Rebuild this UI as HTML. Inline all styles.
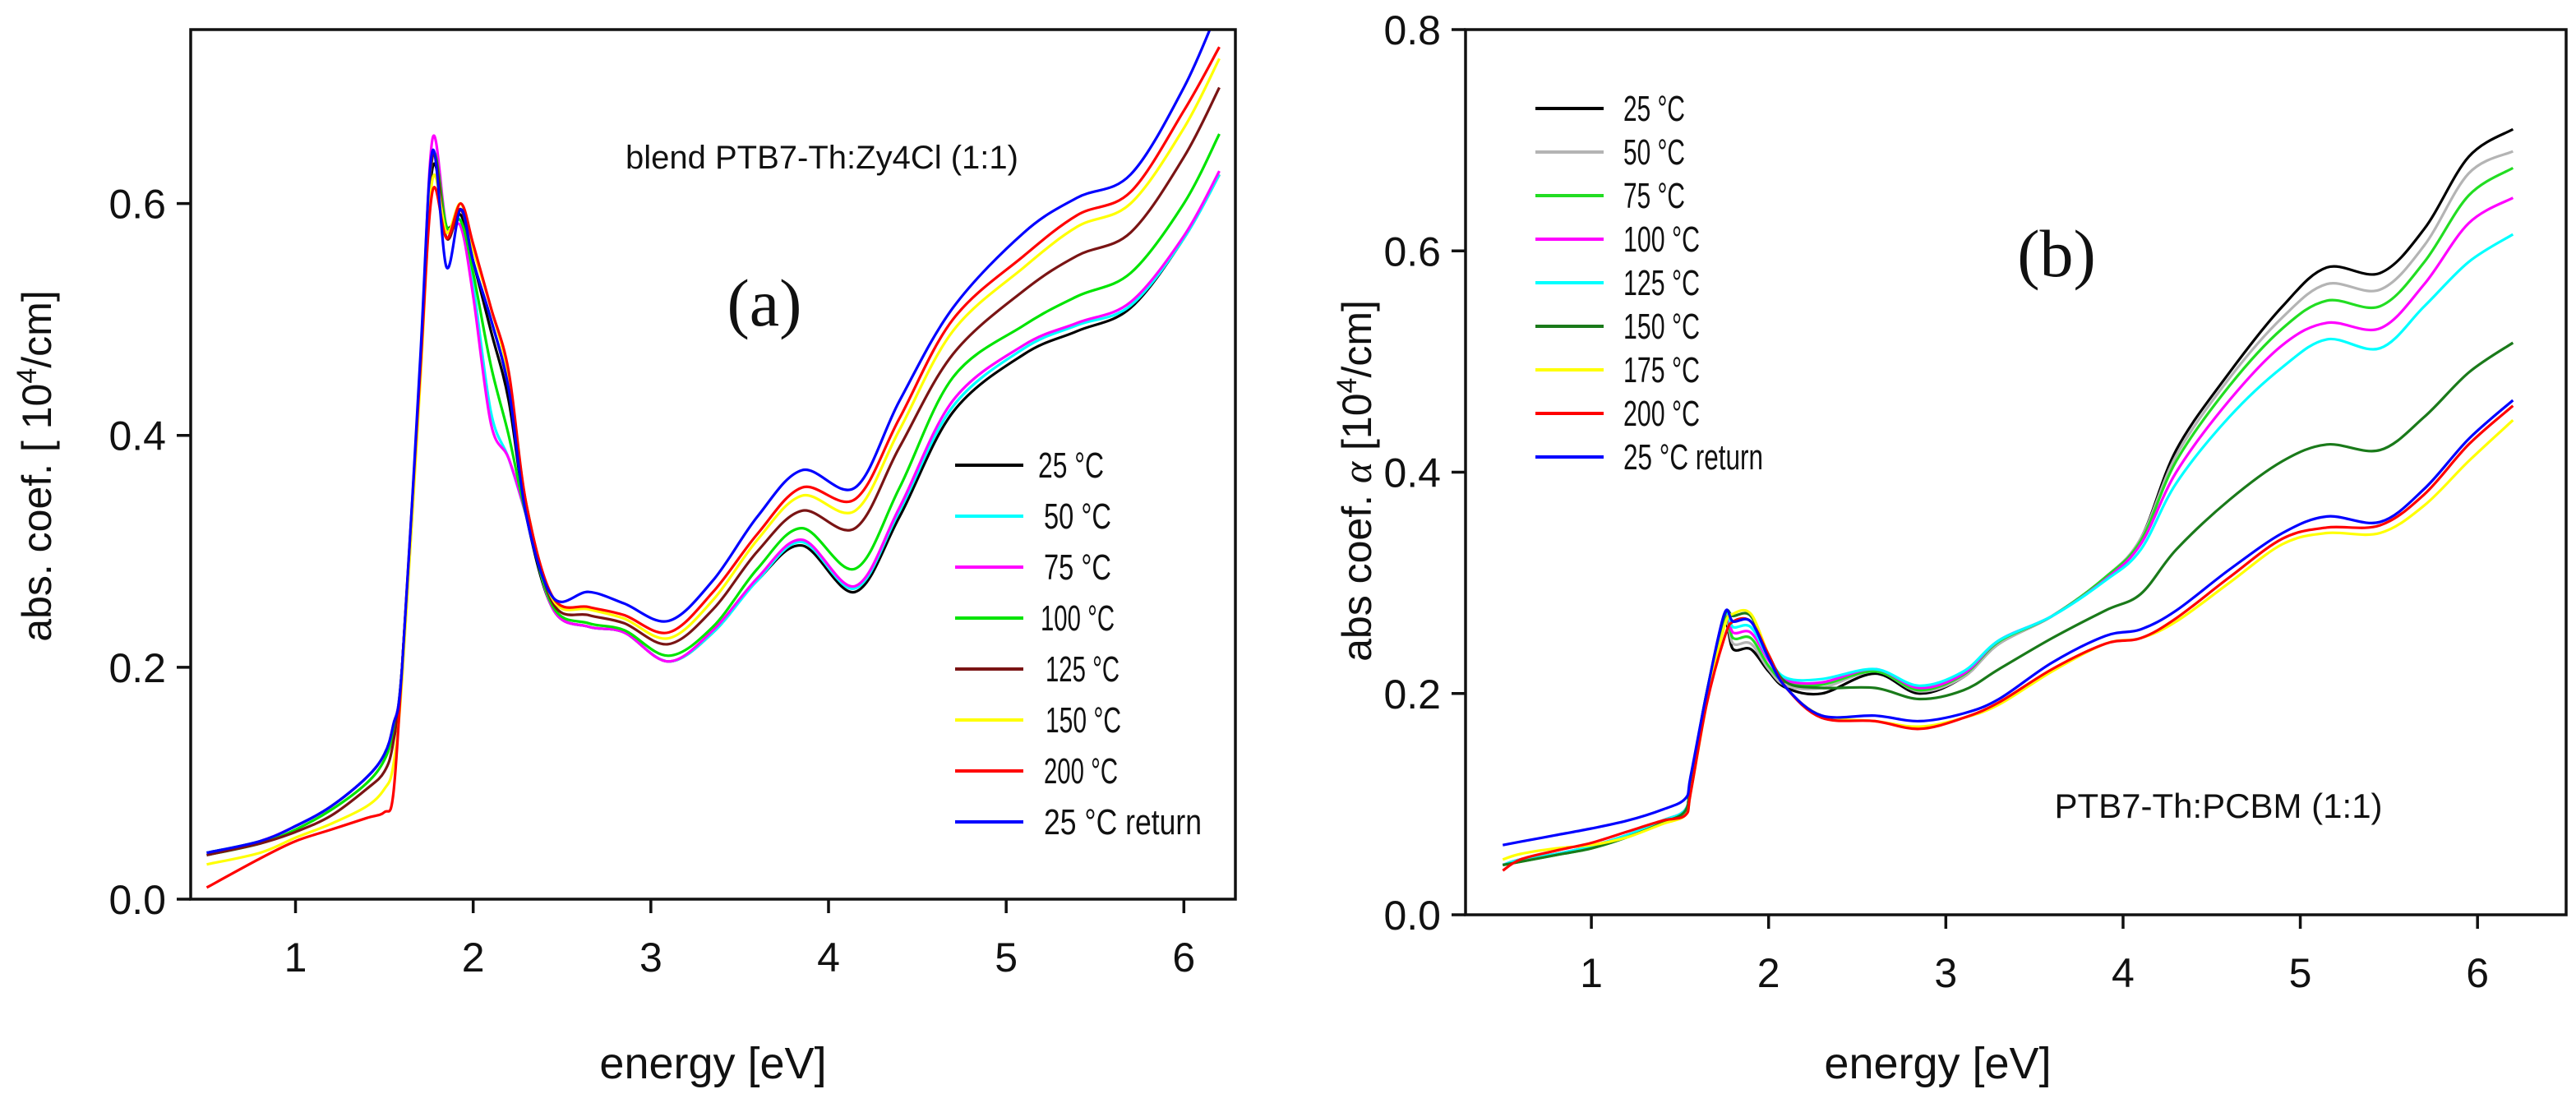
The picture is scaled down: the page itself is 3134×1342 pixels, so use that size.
<!DOCTYPE html>
<html><head><meta charset="utf-8"><style>
html,body{margin:0;padding:0;background:#fff;}
svg{display:block;}
text{font-family:"Liberation Sans",Arial,sans-serif;fill:#111;}
.serif{font-family:"Liberation Serif",serif;}
</style></head><body>
<svg id="fig" width="3134" height="1342" viewBox="0 0 3134 1342" xmlns="http://www.w3.org/2000/svg"></svg>
<script>
// ---------- Panel (a) data ----------
const energyA = [0.5,0.8,1.0,1.2,1.4,1.5,1.55,1.6,1.7,1.77,1.85,1.93,2.0,2.1,2.2,2.3,2.45,2.65,2.85,3.1,3.35,3.6,3.85,4.15,4.4,4.7,5.1,5.4,5.7,6.0,6.2];
const labelsA = ["25 °C","50 °C","75 °C","100 °C","125 °C","150 °C","200 °C","25 °C return"];
const colorsA = ["#000000","#00ffff","#ff00ff","#00e400","#7a1414","#ffff00","#ff0000","#0000ff"];
const a25 = [0.04,0.05,0.063,0.08,0.105,0.125,0.15,0.2,0.45,0.63,0.58,0.59,0.55,0.49,0.43,0.33,0.25,0.235,0.23,0.205,0.23,0.275,0.305,0.265,0.33,0.42,0.47,0.49,0.51,0.57,0.625];
const a50 = [0.04,0.05,0.063,0.08,0.105,0.125,0.15,0.2,0.45,0.64,0.58,0.585,0.53,0.42,0.38,0.33,0.25,0.235,0.23,0.205,0.23,0.275,0.308,0.268,0.335,0.425,0.475,0.495,0.512,0.57,0.625];
const a75 = [0.038,0.05,0.063,0.08,0.105,0.125,0.15,0.2,0.45,0.655,0.58,0.58,0.52,0.41,0.38,0.33,0.25,0.235,0.23,0.205,0.232,0.277,0.31,0.27,0.338,0.43,0.478,0.497,0.515,0.572,0.628];
const a100 = [0.038,0.048,0.06,0.077,0.1,0.12,0.145,0.2,0.45,0.64,0.58,0.585,0.54,0.46,0.40,0.33,0.252,0.238,0.232,0.21,0.235,0.285,0.32,0.285,0.355,0.45,0.495,0.52,0.54,0.6,0.66];
const a125 = [0.038,0.048,0.058,0.072,0.095,0.11,0.135,0.2,0.45,0.64,0.57,0.595,0.55,0.5,0.44,0.34,0.255,0.245,0.238,0.22,0.25,0.3,0.335,0.32,0.39,0.47,0.525,0.555,0.575,0.64,0.70];
const a150 = [0.03,0.04,0.053,0.065,0.08,0.095,0.115,0.19,0.44,0.62,0.575,0.6,0.56,0.51,0.45,0.34,0.258,0.25,0.242,0.225,0.258,0.31,0.348,0.335,0.405,0.49,0.545,0.58,0.60,0.665,0.725];
const a200 = [0.01,0.035,0.05,0.06,0.07,0.075,0.09,0.2,0.45,0.61,0.57,0.6,0.565,0.51,0.455,0.34,0.26,0.252,0.245,0.23,0.265,0.315,0.355,0.345,0.415,0.5,0.555,0.59,0.61,0.68,0.735];
const a25r = [0.04,0.05,0.063,0.08,0.105,0.125,0.15,0.2,0.46,0.645,0.545,0.595,0.55,0.5,0.44,0.33,0.26,0.265,0.255,0.24,0.275,0.33,0.37,0.355,0.43,0.51,0.575,0.605,0.625,0.7,0.77];
const seriesA = [a25,a50,a75,a100,a125,a150,a200,a25r];
const yTicksA = [0.0,0.2,0.4,0.6];
const xTicks = [1,2,3,4,5,6];

// ---------- Panel (b) data ----------
const energyB = [0.5,0.6,0.8,1.0,1.2,1.4,1.53,1.56,1.65,1.75,1.8,1.9,2.0,2.1,2.3,2.6,2.85,3.1,3.3,3.6,3.9,4.1,4.3,4.6,4.9,5.15,5.45,5.7,5.95,6.2];
const labelsB = ["25 °C","50 °C","75 °C","100 °C","125 °C","150 °C","175 °C","200 °C","25 °C return"];
const colorsB = ["#000000","#b4b4b4","#22dd22","#ff00ff","#00ffff","#1a7a1a","#ffff00","#ff0000","#0000ff"];
const b25 = [0.045,0.05,0.055,0.062,0.072,0.085,0.095,0.12,0.2,0.262,0.24,0.24,0.22,0.205,0.2,0.218,0.2,0.215,0.245,0.27,0.305,0.34,0.42,0.49,0.55,0.585,0.58,0.62,0.685,0.71];
const b50 = [0.045,0.05,0.055,0.062,0.072,0.085,0.095,0.12,0.2,0.265,0.245,0.245,0.222,0.207,0.205,0.22,0.202,0.215,0.245,0.27,0.305,0.34,0.415,0.485,0.54,0.57,0.565,0.605,0.67,0.69];
const b75 = [0.045,0.048,0.054,0.06,0.07,0.083,0.094,0.12,0.2,0.268,0.25,0.25,0.225,0.21,0.208,0.22,0.203,0.217,0.247,0.27,0.305,0.338,0.41,0.478,0.53,0.555,0.55,0.59,0.65,0.675];
const b100 = [0.045,0.05,0.055,0.062,0.072,0.085,0.095,0.12,0.2,0.27,0.255,0.255,0.23,0.212,0.21,0.222,0.205,0.218,0.248,0.27,0.303,0.335,0.4,0.465,0.515,0.535,0.53,0.57,0.625,0.648];
const b125 = [0.045,0.05,0.055,0.062,0.072,0.085,0.095,0.12,0.2,0.27,0.26,0.26,0.232,0.214,0.213,0.222,0.207,0.22,0.248,0.27,0.302,0.33,0.39,0.45,0.495,0.52,0.512,0.55,0.59,0.615];
const b150 = [0.045,0.048,0.054,0.06,0.07,0.083,0.094,0.12,0.2,0.27,0.27,0.27,0.235,0.21,0.205,0.205,0.195,0.203,0.222,0.25,0.275,0.29,0.33,0.375,0.41,0.425,0.42,0.45,0.49,0.517];
const b175 = [0.05,0.055,0.06,0.063,0.07,0.082,0.09,0.11,0.19,0.26,0.272,0.272,0.235,0.205,0.18,0.175,0.17,0.178,0.19,0.22,0.245,0.25,0.265,0.3,0.335,0.345,0.345,0.37,0.41,0.447];
const b200 = [0.04,0.05,0.058,0.065,0.075,0.085,0.09,0.11,0.19,0.25,0.265,0.265,0.235,0.205,0.178,0.175,0.168,0.178,0.192,0.222,0.245,0.25,0.268,0.305,0.34,0.35,0.352,0.38,0.425,0.46];
const b25r = [0.063,0.066,0.072,0.078,0.085,0.095,0.105,0.125,0.2,0.272,0.265,0.265,0.232,0.205,0.18,0.18,0.175,0.182,0.195,0.228,0.252,0.258,0.275,0.312,0.345,0.36,0.355,0.385,0.43,0.465];
const seriesB = [b25,b50,b75,b100,b125,b150,b175,b200,b25r];
const yTicksB = [0.0,0.2,0.4,0.6,0.8];

const NS = "http://www.w3.org/2000/svg";
const svg = document.getElementById("fig");
function mk(tag, attrs, parent){
  const e = document.createElementNS(NS, tag);
  for (const k in attrs) e.setAttribute(k, attrs[k]);
  (parent||svg).appendChild(e);
  return e;
}
function smoothPath(pts){
  let d = "M" + pts[0][0].toFixed(1) + "," + pts[0][1].toFixed(1);
  for (let i=0;i<pts.length-1;i++){
    const p0 = pts[Math.max(0,i-1)], p1 = pts[i], p2 = pts[i+1], p3 = pts[Math.min(pts.length-1,i+2)];
    const c1x = p1[0]+(p2[0]-p0[0])/6, c1y = p1[1]+(p2[1]-p0[1])/6;
    const c2x = p2[0]-(p3[0]-p1[0])/6, c2y = p2[1]-(p3[1]-p1[1])/6;
    d += " C"+c1x.toFixed(1)+","+c1y.toFixed(1)+" "+c2x.toFixed(1)+","+c2y.toFixed(1)+" "+p2[0].toFixed(1)+","+p2[1].toFixed(1);
  }
  return d;
}

function panel(cfg){
  const g = mk("g",{});
  
  
  const X = v => cfg.left + (v - cfg.xmin) / (cfg.xmax - cfg.xmin) * (cfg.right - cfg.left);
  const Y = v => cfg.bottom - (v - cfg.ymin) / (cfg.ymax - cfg.ymin) * (cfg.bottom - cfg.top);
  const cid = cfg.name + "-clip";
  const cp = mk("clipPath",{id:cid}, g);
  mk("rect",{x:cfg.left,y:cfg.top,width:cfg.right-cfg.left,height:cfg.bottom-cfg.top}, cp);
  // series
  const sg = mk("g",{"clip-path":"url(#"+cid+")"}, g);
  cfg.series.forEach((s,i)=>{
    const pts = s.map((v,j)=>[X(cfg.energy[j]), Y(v)]);
    const p = mk("path",{d:smoothPath(pts),fill:"none",stroke:cfg.colors[i],"stroke-width":3.2,"stroke-linejoin":"round"}, sg);
    
    
  });
  // frame
  const fr = mk("rect",{x:cfg.left,y:cfg.top,width:cfg.right-cfg.left,height:cfg.bottom-cfg.top,fill:"none",stroke:"#111","stroke-width":3.5}, g);
  
  
  // x ticks
  xTicks.forEach(t=>{
    const x = X(t);
    const tk = mk("line",{x1:x,x2:x,y1:cfg.bottom,y2:cfg.bottom+17,stroke:"#111","stroke-width":3.5}, g);
    
    
    const tl = mk("text",{x:x,y:cfg.bottom+88,"text-anchor":"middle","font-size":50}, g);
    tl.textContent = String(t);
    
    
  });
  cfg.yTicks.forEach(t=>{
    const y = Y(t);
    const tk = mk("line",{x1:cfg.left-17,x2:cfg.left,y1:y,y2:y,stroke:"#111","stroke-width":3.5}, g);
    
    
    const tl = mk("text",{x:cfg.left-30,y:y+18,"text-anchor":"end","font-size":50}, g);
    tl.textContent = t.toFixed(1);
    
    
  });
  // x title
  const xt = mk("text",{x:(cfg.left+cfg.right)/2 + cfg.xtOff,y:1312,"text-anchor":"middle","font-size":54}, g);
  xt.textContent = "energy [eV]";
  
  
  // y title
  const yt = mk("text",{x:0,y:0,"text-anchor":"middle","font-size":50,transform:"translate("+cfg.ytX+","+cfg.ytY+") rotate(-90)"}, g);
  yt.innerHTML = cfg.ytitle;
  
  
  // legend
  cfg.labels.forEach((l,i)=>{
    const y = cfg.legY0 + i*cfg.legDy;
    const lg = mk("g",{}, g);
    
    
    mk("line",{x1:cfg.legX,x2:cfg.legX+83,y1:y,y2:y,stroke:cfg.colors[i],"stroke-width":4}, lg);
    const t = mk("text",{x:cfg.legX+(cfg.legTx[i]||101),y:y+15,"font-size":44,textLength:cfg.legW[i],lengthAdjust:"spacingAndGlyphs"}, lg);
    t.textContent = l;
  });
  return {X,Y,g};
}

const A = panel({name:"panel-a",left:232,right:1503,top:36,bottom:1094,xmin:0.41,xmax:6.29,ymin:0,ymax:0.75,
  energy:energyA,series:seriesA,colors:colorsA,labels:labelsA,yTicks:yTicksA,
  ytX:62,ytY:567,ytitle:'abs. coef. [ 10<tspan dy="-18" font-size="34">4</tspan><tspan dy="18">/cm]</tspan>',
  xtOff:0,legX:1162,legY0:566,legDy:62,
  legTx:[101,108,108,104,110,110,108,108],legW:[80,82,82,90,90,92,90,192]});
const B = panel({name:"panel-b",left:1783,right:3122,top:36,bottom:1113,xmin:0.29,xmax:6.5,ymin:0,ymax:0.8,
  energy:energyB,series:seriesB,colors:colorsB,labels:labelsB,yTicks:yTicksB,
  ytX:1668,ytY:585,ytitle:'abs coef. <tspan class="serif" font-style="italic">α</tspan> [10<tspan dy="-18" font-size="34">4</tspan><tspan dy="18">/cm]</tspan>',
  xtOff:-95,legX:1868,legY0:132,legDy:53,
  legTx:[107,107,107,107,107,107,107,107,107],legW:[75,75,75,93,93,93,93,93,170]});

// annotations
const t1 = mk("text",{x:1000,y:205,"text-anchor":"middle","font-size":40});
t1.textContent = "blend PTB7-Th:Zy4Cl (1:1)";


const t2 = mk("text",{x:930,y:396,"text-anchor":"middle","font-size":82,"class":"serif"});
t2.textContent = "(a)";


const t3 = mk("text",{x:2502,y:336,"text-anchor":"middle","font-size":82,"class":"serif"});
t3.textContent = "(b)";


const t4 = mk("text",{x:2699,y:995,"text-anchor":"middle","font-size":42});
t4.textContent = "PTB7-Th:PCBM (1:1)";


</script>
</body></html>
